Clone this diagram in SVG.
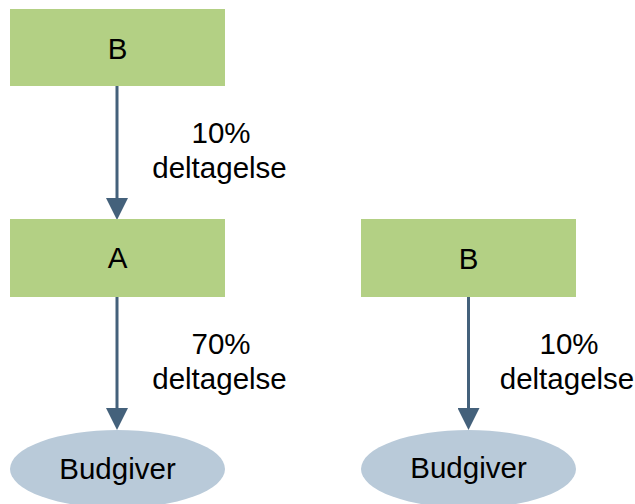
<svg xmlns="http://www.w3.org/2000/svg" width="635" height="504" viewBox="0 0 635 504">
<style>
.rect{fill:#b3d084;}
.ell{fill:#b9cad9;}
.lbl{font-family:"Liberation Sans",Arial,sans-serif;font-size:29.5px;fill:#000;text-anchor:middle;}
.edge{stroke:#44617b;stroke-width:3;fill:none;}
</style>
<defs>
<marker id="arr" viewBox="0 -11 22 22" refX="1" refY="0" markerWidth="22" markerHeight="22" markerUnits="userSpaceOnUse" orient="auto">
<path d="M0,-11 L22,0 L0,11 z" fill="#44617b"/>
</marker>
</defs>
<rect width="635" height="504" fill="#fff"/>
<g id="connectors">
<g id="e1"><line class="edge" x1="117" y1="86" x2="117" y2="199" marker-end="url(#arr)"/>
<text class="lbl" x="221" y="143">10%</text><text class="lbl" x="219.5" y="178">deltagelse</text></g>
<g id="e2"><line class="edge" x1="117" y1="297" x2="117" y2="409" marker-end="url(#arr)"/>
<text class="lbl" x="221" y="354">70%</text><text class="lbl" x="219.5" y="389">deltagelse</text></g>
<g id="e3"><line class="edge" x1="468.5" y1="297" x2="468.5" y2="409" marker-end="url(#arr)"/>
<text class="lbl" x="569" y="354">10%</text><text class="lbl" x="567" y="389">deltagelse</text></g>
</g>
<g id="nodeB1"><rect class="rect" x="10" y="9" width="215" height="77"/><text class="lbl" x="117.5" y="59">B</text></g>
<g id="nodeA"><rect class="rect" x="10" y="219" width="215" height="78"/><text class="lbl" x="117.5" y="268">A</text></g>
<g id="nodeB2"><rect class="rect" x="361" y="219" width="215" height="78"/><text class="lbl" x="468.5" y="269">B</text></g>
<g id="budgiver1"><ellipse class="ell" cx="117.5" cy="469" rx="107.5" ry="39"/><text class="lbl" x="117.5" y="479">Budgiver</text></g>
<g id="budgiver2"><ellipse class="ell" cx="468.5" cy="469" rx="107.5" ry="39"/><text class="lbl" x="468.5" y="478">Budgiver</text></g>
</svg>
